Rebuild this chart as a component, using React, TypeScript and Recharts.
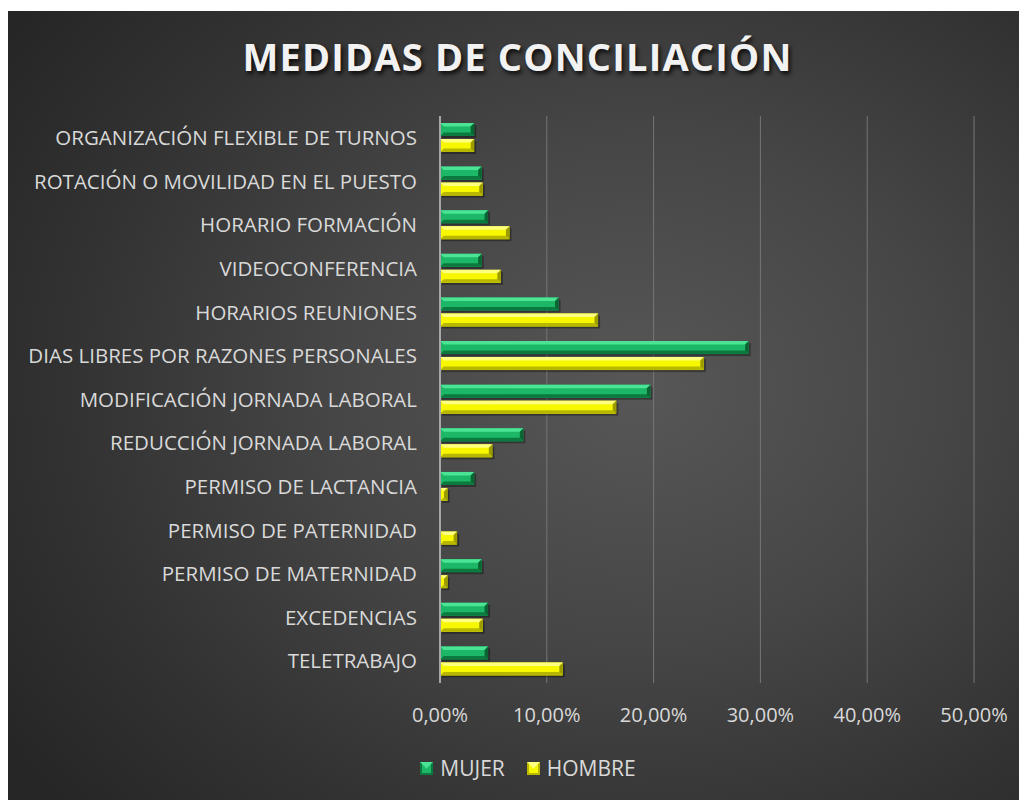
import React from 'react';
import { BarChart, Bar, XAxis, YAxis, CartesianGrid, Legend } from 'recharts';

const categories = [
  'ORGANIZACIÓN FLEXIBLE DE TURNOS',
  'ROTACIÓN O MOVILIDAD EN EL PUESTO',
  'HORARIO FORMACIÓN',
  'VIDEOCONFERENCIA',
  'HORARIOS REUNIONES',
  'DIAS LIBRES POR RAZONES PERSONALES',
  'MODIFICACIÓN JORNADA LABORAL',
  'REDUCCIÓN JORNADA LABORAL',
  'PERMISO DE LACTANCIA',
  'PERMISO DE PATERNIDAD',
  'PERMISO DE MATERNIDAD',
  'EXCEDENCIAS',
  'TELETRABAJO',
];
const mujer = [3.2, 3.9, 4.5, 3.9, 11.1, 28.9, 19.7, 7.8, 3.2, 0, 3.9, 4.5, 4.5];
const hombre = [3.2, 4.0, 6.5, 5.7, 14.8, 24.7, 16.5, 4.9, 0.7, 1.6, 0.7, 4.0, 11.5];
const xTicks = [0, 10, 20, 30, 40, 50];
const seriesNames = ['MUJER', 'HOMBRE'];

const data = categories.map((c, i) => ({ name: c, mujer: mujer[i], hombre: hombre[i] }));

const FONT = '"Open Sans", "Noto Sans", sans-serif';
const TEXT = '#d9d9d9';

type Pal = { mid: string; light: string; dark: string; darker: string };
const GREEN: Pal = { mid: '#1db867', light: '#4ae494', dark: '#0c7a3e', darker: '#0a6533' };
const YELLOW: Pal = { mid: '#f7f700', light: '#ffff80', dark: '#b8b800', darker: '#9c9c00' };

const makeShape = (p: Pal) => (props: any) => {
  const { x, y, width, height } = props;
  if (!width || width <= 0 || !height) return <g />;
  const b = Math.min(3.5, width / 2, height / 2);
  const x2 = x + width;
  const y2 = y + height;
  return (
    <g>
      <rect x={x + 2} y={y + 2} width={width} height={height} fill="#000" opacity={0.35} />
      <rect x={x} y={y} width={width} height={height} fill={p.mid} />
      <polygon points={`${x},${y} ${x2},${y} ${x2 - b},${y + b} ${x + b},${y + b}`} fill={p.light} />
      <polygon points={`${x},${y2} ${x2},${y2} ${x2 - b},${y2 - b} ${x + b},${y2 - b}`} fill={p.dark} />
      <polygon points={`${x2},${y} ${x2},${y2} ${x2 - b},${y2 - b} ${x2 - b},${y + b}`} fill={p.darker} />
      <polygon points={`${x},${y} ${x},${y2} ${x + b},${y2 - b} ${x + b},${y + b}`} fill={p.mid} opacity={0.9} />
    </g>
  );
};

const LegendMarker = ({ p }: { p: Pal }) => (
  <svg width={13} height={13} style={{ display: 'block' }}>
    <rect x={0} y={0} width={13} height={13} fill={p.dark} />
    <rect x={2} y={2} width={9} height={9} fill={p.mid} />
    <polygon points="0,0 13,0 6.5,6.5" fill={p.light} />
  </svg>
);

const renderLegend = () => (
  <div style={{ display: 'flex', justifyContent: 'center', alignItems: 'center', height: 30, fontFamily: FONT, fontSize: 21, color: TEXT, paddingLeft: 74 }}>
    <div style={{ display: 'flex', alignItems: 'center', marginRight: 22 }}>
      <LegendMarker p={GREEN} />
      <span style={{ marginLeft: 7 }}>{seriesNames[0]}</span>
    </div>
    <div style={{ display: 'flex', alignItems: 'center' }}>
      <LegendMarker p={YELLOW} />
      <span style={{ marginLeft: 7 }}>{seriesNames[1]}</span>
    </div>
  </div>
);

const fmt = (v: number) => `${v.toFixed(2).replace('.', ',')}%`;

export default function App() {
  return (
    <div style={{ paddingTop: 3 }}>
      <div
        style={{
          position: 'relative',
          width: 1019,
          height: 789,
          background: 'radial-gradient(ellipse 75% 80% at 62% 48%, #575757 0%, #464646 40%, #323232 75%, #262626 100%)',
        }}
      >
        <div
          style={{
            position: 'absolute',
            top: 19,
            left: 0,
            width: 1019,
            textAlign: 'center',
            fontFamily: FONT,
            fontWeight: 700,
            fontSize: 38,
            color: '#f2f2f2',
            letterSpacing: 1.2,
            textShadow: '2px 3px 4px rgba(0,0,0,0.8)',
          }}
        >
          MEDIDAS DE CONCILIACIÓN
        </div>
        <BarChart
          width={1019}
          height={789}
          data={data}
          layout="vertical"
          margin={{ top: 105, right: 53, bottom: 17, left: 0 }}
          barSize={13}
          barGap={3}
        >
          <CartesianGrid horizontal={false} vertical stroke="#767676" strokeWidth={1} />
          <XAxis
            type="number"
            domain={[0, 50]}
            ticks={xTicks}
            tickFormatter={fmt}
            axisLine={false}
            tickLine={false}
            tickMargin={19}
            height={70}
            tick={{ fill: TEXT, fontSize: 20, fontFamily: FONT }}
          />
          <YAxis
            type="category"
            dataKey="name"
            width={432}
            axisLine={{ stroke: '#a6a6a6', strokeWidth: 2 }}
            tickLine={false}
            tickMargin={17}
            interval={0}
            tick={{ fill: TEXT, fontSize: 20.5, fontFamily: FONT }}
          />
          <Legend verticalAlign="bottom" height={30} content={renderLegend} />
          <Bar dataKey="mujer" name={seriesNames[0]} shape={makeShape(GREEN)} isAnimationActive={false} />
          <Bar dataKey="hombre" name={seriesNames[1]} shape={makeShape(YELLOW)} isAnimationActive={false} />
        </BarChart>
      </div>
    </div>
  );
}
